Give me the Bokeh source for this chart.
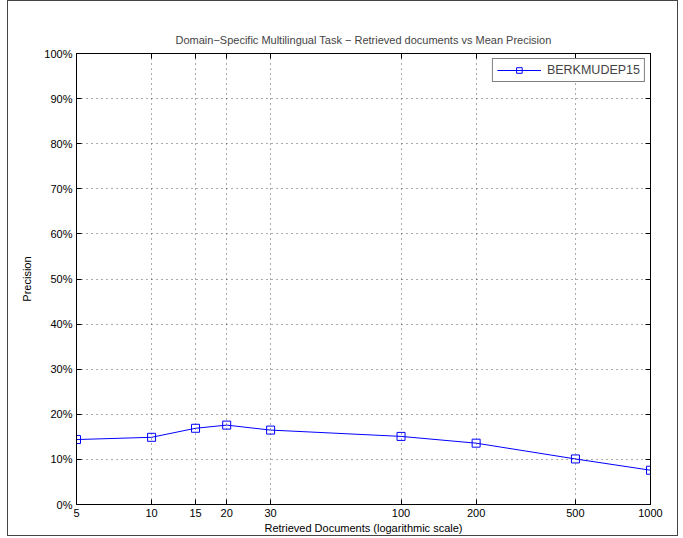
from bokeh.plotting import figure
from bokeh.models import FixedTicker, NumeralTickFormatter, Legend, LegendItem, LogAxis, LinearAxis
from bokeh.embed import file_html
from bokeh.resources import INLINE

docs = [5, 10, 15, 20, 30, 100, 200, 500, 1000]
precision = [0.144, 0.149, 0.169, 0.176, 0.165, 0.151, 0.136, 0.101, 0.076]
x_ticks = [5, 10, 15, 20, 30, 100, 200, 500, 1000]
x_labels = ["5", "10", "15", "20", "30", "100", "200", "500", "1000"]
y_ticks = [i / 10 for i in range(11)]
series_name = "BERKMUDEP15"

FONT = "Liberation Sans"

p = figure(width=671, height=536, x_axis_type="log", output_backend="svg",
           toolbar_location=None, x_range=(5, 1000), y_range=(0, 1),
           title="Domain\u2212Specific Multilingual Task \u2212 Retrieved documents vs Mean Precision",
           min_border_left=68, min_border_right=29, min_border_top=52, min_border_bottom=33)
p.margin = (0, 0, 0, 7)
p.styles = {"border": "1px solid #444"}
p.title.align = "center"
p.title.text_font = FONT
p.title.text_font_size = "11px"
p.title.text_font_style = "normal"
p.title.standoff = 16

p.outline_line_color = "black"
p.outline_line_width = 1
p.outline_line_alpha = 1

for ax in (p.xaxis[0], p.yaxis[0]):
    ax.major_tick_in = 5
    ax.major_tick_out = 0
    ax.minor_tick_in = 0
    ax.minor_tick_out = 0
    ax.axis_line_color = "black"
    ax.major_tick_line_color = "black"
    ax.major_label_text_font = FONT
    ax.major_label_text_font_size = "11px"
    ax.major_label_text_color = "black"
    ax.axis_label_text_font = FONT
    ax.axis_label_text_font_size = "11px"
    ax.axis_label_text_font_style = "normal"
    ax.axis_label_text_color = "black"

p.xaxis[0].ticker = FixedTicker(ticks=x_ticks)
p.xaxis[0].major_label_overrides = {t: l for t, l in zip(x_ticks, x_labels)}
p.xaxis[0].major_label_standoff = 4
p.xaxis[0].axis_label = "Retrieved Documents (logarithmic scale)"
p.xaxis[0].axis_label_standoff = 2

p.yaxis[0].ticker = FixedTicker(ticks=y_ticks)
p.yaxis[0].formatter = NumeralTickFormatter(format="0%")
p.yaxis[0].major_label_standoff = 4
p.yaxis[0].axis_label = "Precision"
p.yaxis[0].axis_label_standoff = 8

# mirrored tick marks on top and right edges (labels not painted)
top_ax = LogAxis(ticker=FixedTicker(ticks=x_ticks), major_label_text_font_size="1px",
                 major_label_text_color=None, major_label_text_alpha=0,
                 major_tick_in=5, major_tick_out=0, minor_tick_in=0, minor_tick_out=0,
                 major_label_standoff=0, axis_line_color="black", major_tick_line_color="black")
right_ax = LinearAxis(ticker=FixedTicker(ticks=y_ticks), major_label_text_font_size="1px",
                      major_label_text_color=None, major_label_text_alpha=0,
                      major_tick_in=5, major_tick_out=0, minor_tick_in=0, minor_tick_out=0,
                      major_label_standoff=0, axis_line_color="black", major_tick_line_color="black")
p.add_layout(top_ax, "above")
p.add_layout(right_ax, "right")

for g in (p.xgrid[0], p.ygrid[0]):
    g.grid_line_color = "black"
    g.grid_line_dash = "1 4"
    g.grid_line_width = 1
    g.grid_line_alpha = 0.65
p.xgrid[0].ticker = FixedTicker(ticks=x_ticks)
p.ygrid[0].ticker = FixedTicker(ticks=y_ticks)

ln = p.line(docs, precision, line_color="#0000ff", line_width=1)
mk = p.scatter(docs, precision, marker="square", size=8, fill_color=None,
               line_color="#0000ff", line_width=1)

legend = Legend(items=[LegendItem(label=series_name, renderers=[ln, mk])],
                location="top_right", border_line_color="black", border_line_width=1,
                label_text_font=FONT, label_text_font_size="12.5px",
                glyph_width=44, glyph_height=14, padding=4, spacing=0,
                margin=5, label_standoff=6, label_height=14)
p.add_layout(legend)

p.background_fill_color = "white"
p.border_fill_color = "white"

open("out.html", "w").write(file_html(p, INLINE))
